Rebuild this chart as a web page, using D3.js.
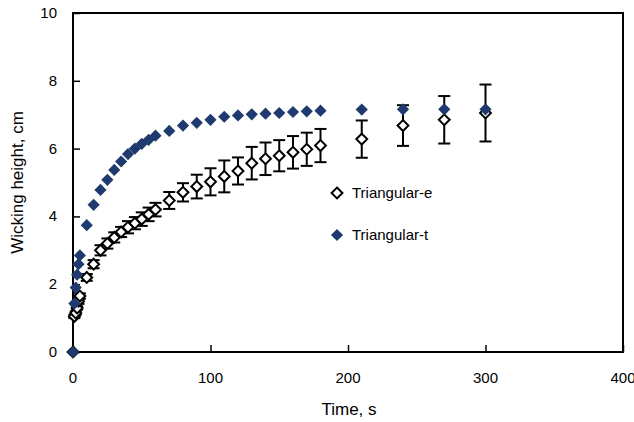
<!DOCTYPE html>
<html>
<head>
<meta charset="utf-8">
<script src="https://cdn.jsdelivr.net/npm/d3@7"></script>
<style>
	body { margin: 0; background: #fff; }
	text { font-family: "Liberation Sans", Arial, sans-serif; fill: #000; }
</style>
</head>
<body>
<svg id="chart"></svg>
<script>
// ========================= DATA =========================
const times = [0, 1, 2, 3, 4, 5, 10, 15, 20, 25, 30, 35, 40, 45, 50, 55, 60, 70, 80, 90, 100, 110, 120, 130, 140, 150, 160, 170, 180, 210, 240, 270, 300];
const triE = [0, 1.05, 1.15, 1.3, 1.5, 1.65, 2.2, 2.59, 3.0, 3.2, 3.38, 3.54, 3.68, 3.8, 3.92, 4.06, 4.2, 4.47, 4.71, 4.88, 5.02, 5.18, 5.34, 5.57, 5.7, 5.79, 5.89, 5.98, 6.09, 6.28, 6.68, 6.85, 7.05];
const triEErr = [0, 0.05, 0.05, 0.05, 0.08, 0.08, 0.1, 0.12, 0.15, 0.15, 0.15, 0.15, 0.18, 0.18, 0.2, 0.2, 0.2, 0.25, 0.27, 0.35, 0.4, 0.47, 0.4, 0.48, 0.48, 0.46, 0.48, 0.49, 0.49, 0.55, 0.6, 0.7, 0.84];
const triT = [0, 1.43, 1.9, 2.28, 2.59, 2.85, 3.74, 4.34, 4.78, 5.08, 5.37, 5.62, 5.84, 6.0, 6.14, 6.26, 6.38, 6.52, 6.68, 6.76, 6.85, 6.94, 6.98, 7.01, 7.03, 7.05, 7.08, 7.1, 7.12, 7.15, 7.16, 7.16, 7.16];
const xTicks = [0, 100, 200, 300, 400];
const yTicks = [0, 2, 4, 6, 8, 10];
const seriesNames = ["Triangular-e", "Triangular-t"];

const navy = "#1f3a6e";

// ========================= SETUP =========================
const width = 634;
const height = 422;
const margin = { top: 13, right: 11, bottom: 70, left: 73 };
const innerW = width - margin.left - margin.right;
const innerH = height - margin.top - margin.bottom;

const svg = d3.select("#chart").attr("width", width).attr("height", height);
const g = svg.append("g").attr("transform", `translate(${margin.left},${margin.top})`);

const x = d3.scaleLinear().domain([0, 400]).range([0, innerW]);
const y = d3.scaleLinear().domain([0, 10]).range([innerH, 0]);

const diamond = d3.symbol().type(d3.symbolDiamond2);

// axes, ticks pointing inward
const xAxis = g.append("g")
	.attr("transform", `translate(0,${innerH})`)
	.call(d3.axisTop(x).tickValues(xTicks).tickSize(7).tickFormat(""));
const yAxis = g.append("g")
	.call(d3.axisRight(y).tickValues(yTicks).tickSize(7).tickFormat(""));
[xAxis, yAxis].forEach((a) => {
	a.select(".domain").remove();
	a.selectAll("line").attr("stroke", "#000").attr("stroke-width", 1.5);
});

// plot frame
g.append("rect")
	.attr("width", innerW)
	.attr("height", innerH)
	.attr("fill", "none")
	.attr("stroke", "#000")
	.attr("stroke-width", 2);

// tick labels
g.selectAll(".xlab")
	.data(xTicks)
	.enter()
	.append("text")
	.attr("x", (d) => x(d))
	.attr("y", innerH + 31)
	.attr("text-anchor", "middle")
	.style("font-size", "15px")
	.text((d) => d);

g.selectAll(".ylab")
	.data(yTicks)
	.enter()
	.append("text")
	.attr("x", -16)
	.attr("y", (d) => y(d) + 5)
	.attr("text-anchor", "end")
	.style("font-size", "15px")
	.text((d) => d);

// axis titles
svg.append("text")
	.attr("x", margin.left + x(200) + 1)
	.attr("y", 415)
	.attr("text-anchor", "middle")
	.style("font-size", "17px")
	.text("Time, s");

svg.append("text")
	.attr("transform", `translate(23,${margin.top + y(5)}) rotate(-90)`)
	.attr("text-anchor", "middle")
	.style("font-size", "17px")
	.text("Wicking height, cm");

// ========================= SERIES =========================
const eData = times.map((t, i) => ({ t: t, v: triE[i], err: triEErr[i] }));
const tData = times.map((t, i) => ({ t: t, v: triT[i] }));

// error bars for the experimental series
const bars = g.append("g").selectAll("g")
	.data(eData.filter((d) => d.err > 0))
	.enter()
	.append("g")
	.attr("stroke", "#000")
	.attr("stroke-width", 2);
bars.append("line")
	.attr("x1", (d) => x(d.t))
	.attr("x2", (d) => x(d.t))
	.attr("y1", (d) => y(d.v - d.err))
	.attr("y2", (d) => y(d.v + d.err));
bars.append("line")
	.attr("x1", (d) => x(d.t) - 6)
	.attr("x2", (d) => x(d.t) + 6)
	.attr("y1", (d) => y(d.v + d.err))
	.attr("y2", (d) => y(d.v + d.err));
bars.append("line")
	.attr("x1", (d) => x(d.t) - 6)
	.attr("x2", (d) => x(d.t) + 6)
	.attr("y1", (d) => y(d.v - d.err))
	.attr("y2", (d) => y(d.v - d.err));

// hollow diamonds
g.append("g").selectAll("path")
	.data(eData)
	.enter()
	.append("path")
	.attr("d", diamond.size(75))
	.attr("transform", (d) => `translate(${x(d.t)},${y(d.v)})`)
	.attr("fill", "#fff")
	.attr("stroke", "#000")
	.attr("stroke-width", 2);

// filled diamonds
g.append("g").selectAll("path")
	.data(tData)
	.enter()
	.append("path")
	.attr("d", diamond.size(95))
	.attr("transform", (d) => `translate(${x(d.t)},${y(d.v)})`)
	.attr("fill", navy);

// ========================= LEGEND =========================
const legend = svg.append("g").attr("transform", "translate(337,193)");
const items = legend.selectAll("g")
	.data(seriesNames)
	.enter()
	.append("g")
	.attr("transform", (d, i) => `translate(0,${i * 42})`);
items.append("path")
	.attr("d", (d, i) => diamond.size(i === 0 ? 75 : 95)())
	.attr("fill", (d, i) => (i === 0 ? "#fff" : navy))
	.attr("stroke", (d, i) => (i === 0 ? "#000" : "none"))
	.attr("stroke-width", 2);
items.append("text")
	.attr("x", 15)
	.attr("y", 5)
	.style("font-size", "15px")
	.text((d) => d);
</script>
</body>
</html>
